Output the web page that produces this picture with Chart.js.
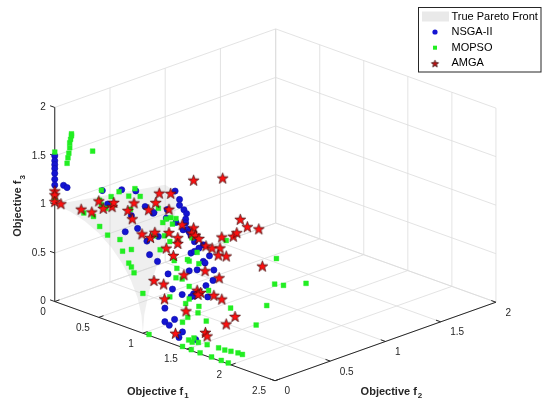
<!DOCTYPE html>
<html>
<head>
<meta charset="utf-8">
<script src="https://cdn.jsdelivr.net/npm/chart.js@4.4.0/dist/chart.umd.min.js"></script>
<style>
  html, body { margin: 0; padding: 0; background: #fff; }
  #wrap { width: 550px; height: 408px; position: relative; }
</style>
</head>
<body>
<div id="wrap"><canvas id="paretochart"></canvas></div>
<script>
'use strict';

// axis ticks
var f1Ticks = [0, 0.5, 1, 1.5, 2, 2.5];
var f2Ticks = [0, 0.5, 1, 1.5, 2];
var f3Ticks = [0, 0.5, 1, 1.5, 2];

// outline of the true Pareto front (f2 = 0 edge, then far edge back to the top)
var frontF1 = [0, 0.174, 0.342, 0.5, 0.643, 0.766, 0.866, 0.94, 0.985, 1, 0.979, 0.918, 0.823, 0.703, 0.567, 0.425, 0.282, 0.14, 0];
var frontF2 = [0, 0, 0, 0, 0, 0, 0, 0, 0, 0, 0.03, 0.117, 0.25, 0.413, 0.587, 0.75, 0.883, 0.97, 1];
var frontF3 = [1, 0.985, 0.94, 0.866, 0.766, 0.643, 0.5, 0.342, 0.174, 0, 0.173, 0.334, 0.475, 0.59, 0.676, 0.736, 0.774, 0.794, 0.8];

// NSGA-II
var nsgaF1 = [0, 0, 0, 0, 0, 0, 0, 0.10, 0.14, 0.54, 0.76, 0.92, 0.99, 1.04, 1.04, 1.09, 1.12, 1.11, 1.11, 1.08,
  1.13, 0.74, 0.89, 1.00, 0.80, 1.15, 1.21, 1.31, 1.26, 1.38, 1.31, 0.60, 0.87, 0.65, 0.75, 0.90, 0.80, 0.94, 0.67, 1.17,
  0.70, 0.79, 1.17, 0.91, 0.96, 1.07, 1.17, 1.20, 1.24, 1.33, 1.43, 1.42, 1.34, 1.36, 1.21, 1.25, 1.25, 1.36, 1.30, 1.41,
  1.45, 1.60, 1.21, 1.15];
var nsgaF2 = [0, 0, 0, 0, 0, 0, 0, 0, 0, 0, 0, 0, 0.3, 0.3, 0.3, 0.3, 0.3, 0.3, 0.3, 0.3,
  0.3, 0.3, 0.3, 0.3, 0.3, 0.3, 0.3, 0.3, 0.3, 0.3, 0.3, 0, 0, 0.3, 0.3, 0.3, 0, 0, 0.3, 0.3,
  0.3, 0.3, 0.3, 0.3, 0.3, 0.3, 0.3, 0.3, 0.3, 0.3, 0.3, 0.3, 0.3, 0.3, 0.3, 0, 0, 0, 0, 0,
  0, 0, 0.3, 0.3];
var nsgaF3 = [1.50, 1.45, 1.41, 1.37, 1.32, 1.26, 1.20, 1.23, 1.22, 1.32, 1.40, 1.44, 1.34, 1.27, 1.21, 1.18, 1.15, 1.09, 1.05, 0.97,
  0.99, 1.03, 1.03, 1.02, 0.81, 0.97, 0.89, 0.89, 0.84, 0.80, 0.72, 1.20, 1.17, 1.07, 1.04, 1.12, 0.98, 1.06, 0.72, 0.94,
  0.59, 0.55, 0.76, 0.46, 0.32, 0.30, 0.31, 0.35, 0.61, 0.71, 0.67, 0.56, 0.48, 0.37, 0.33, 0.34, 0.20, 0.26, 0.18, 0.09,
  0.16, 0.13, 0.79, 0.57];

// MOPSO
var mopsoF1 = [0.14, 0.15, 0.16, 0.17, 0.17, 0.18, 0.19, 0.19, 0, 0.43, 0, 0.53, 0.64, 0.73, 0.84, 0.91, 0.97, 0.51, 0.58, 0.53,
  0.66, 0.33, 0.44, 0.51, 0.60, 0.74, 0.77, 0.87, 0.84, 0.87, 0.90, 1.00, 1.07, 0.86, 0.80, 0.85, 0.89, 1.00, 0.94, 0.96,
  0.75, 0.87, 0.93, 0.82, 0.98, 1.01, 1.15, 1.18, 1.24, 1.13, 1.26, 1.57, 1.07, 1.00, 1.15, 1.37, 0.93, 1.15, 1.11, 1.26,
  1.25, 1.51, 1.45, 1.72, 1.62, 2.03, 1.91, 1.58, 1.52, 1.56, 1.63, 1.73, 1.86, 1.93, 2.00, 2.08, 2.13, 1.45, 1.55, 1.65,
  1.78, 1.89, 1.97, 2.14, 2.12, 2.22, 2.10];
var mopsoF2 = [0, 0, 0, 0, 0, 0, 0, 0, 0, 0, 0, 0, 0, 0, 0, 0, 0, 0, 0, 0,
  0, 0, 0, 0, 0, 0, 0, 0, 0, 0, 0, 0, 0, 0, 0.3, 0.3, 0.3, 0.3, 0.3, 0.3,
  0.3, 0.3, 0.3, 0.3, 0.3, 0.3, 0.3, 0.3, 0.3, 0.3, 0.3, 0.3, 0.3, 0.3, 0.3, 0.3, 0.3, 0.3, 0.3, 0.3,
  0.3, 0, 0, 0, 0.3, 0.3, 0.3, 0, 0, 0, 0, 0, 0, 0, 0, 0, 0, 0, 0, 0,
  0, 0, 0, 0.3, 0.3, 0.3, 0.6];
var mopsoF3 = [1.47, 1.53, 1.58, 1.64, 1.69, 1.73, 1.77, 1.79, 1.54, 1.69, 1.06, 1.32, 1.29, 1.37, 1.36, 1.46, 1.40, 1.21, 1.15, 1.17,
  1.21, 1.02, 1.02, 0.94, 0.88, 0.88, 0.77, 0.82, 0.67, 0.64, 0.59, 0.41, 0.01, 1.23, 1.10, 0.97, 1.02, 1.06, 1.05, 0.99,
  0.80, 0.84, 0.80, 0.68, 0.62, 0.55, 0.67, 0.92, 0.79, 0.68, 0.68, 1.02, 0.46, 0.45, 0.41, 0.44, 0.23, 0.28, 0.22, 0.24,
  0.17, 0.33, 0.26, 0.36, 0.34, 0.50, 0.26, 0.14, 0.10, 0.09, 0.11, 0.12, 0.13, 0.13, 0.14, 0.15, 0.15, 0.01, 0.01, 0.01,
  0.01, 0.01, 0.01, 1.02, 0.75, 0.77, 0.63];

// AMGA
var amgaF1 = [0, 0, 0, 0.07, 0.50, 0.55, 0.65, 0.30, 0.42, 0.67, 0.90, 0.83, 0.88, 0.69, 0.77, 0.81, 0.94, 1.20, 1.53, 0.92,
  0.99, 0.71, 0.76, 0.92, 1.02, 1.02, 1.07, 1.20, 0.89, 0.97, 1.18, 1.22, 1.26, 1.34, 1.41, 1.50, 1.52, 1.65, 1.69, 1.73,
  1.81, 1.94, 1.98, 1.57, 1.48, 1.09, 1.33, 1.49, 0.75, 0.86, 1.24, 1.28, 1.25, 1.43, 1.52, 0.87, 1.49, 1.67, 1.57, 1.37,
  1.71, 1.73];
var amgaF2 = [0, 0, 0, 0, 0, 0, 0, 0, 0, 0, 0, 0, 0, 0.3, 0.3, 0.3, 0.3, 0.3, 0.3, 0.3,
  0, 0.3, 0.3, 0.3, 0.3, 0.3, 0.3, 0.3, 0.3, 0.3, 0.3, 0.3, 0.3, 0.3, 0.3, 0.3, 0.3, 0.3, 0.3, 0.3,
  0.3, 0.3, 0.3, 0.3, 0.3, 0.3, 0.3, 0.3, 0.3, 0.3, 0.3, 0.3, 0.3, 0.3, 0.3, 0.3, 0, 0.3, 0.3, 0,
  0, 0];
var amgaF3 = [1.14, 1.10, 1.03, 1.03, 1.20, 1.14, 1.19, 1.05, 1.06, 1.24, 1.31, 1.21, 1.14, 1.05, 1.15, 1.26, 1.30, 1.52, 1.65, 1.13,
  1.02, 0.77, 0.84, 0.89, 0.87, 0.81, 1.02, 1.03, 0.72, 0.67, 0.97, 0.96, 0.94, 0.89, 0.89, 0.92, 1.04, 1.09, 1.14, 1.29,
  1.24, 1.26, 0.89, 0.86, 0.84, 0.51, 0.63, 0.61, 0.34, 0.34, 0.40, 0.39, 0.36, 0.41, 0.40, 0.19, 0.39, 0.27, 0.16, 0.12,
  0.24, 0.21];

// how the 3D box sits on the canvas (oblique view)
var view = { ox: 49, oy: 305, e1: [90.4, 32.8], e2: [113.35, -40.65], e3: [0, -100.5] };

function project(a, b, c) {
  return {
    x: view.ox + a * view.e1[0] + b * view.e2[0] + c * view.e3[0],
    y: view.oy + a * view.e1[1] + b * view.e2[1] + c * view.e3[1]
  };
}

function toPoints(f1, f2, f3) {
  return f1.map(function (v, i) { return project(v, f2[i], f3[i]); });
}

var FONT = '"Liberation Sans", Arial, Helvetica, sans-serif';
var AXIS_COLOR = '#262626';
var FRONT_COLOR = 'rgba(205,205,205,0.32)';

function makeStar(outer, fill, edge, lw) {
  var c = document.createElement('canvas');
  var s = Math.ceil(outer * 2 + 3);
  c.width = s; c.height = s;
  var g = c.getContext('2d');
  var inner = outer * 0.40;
  g.beginPath();
  for (var k = 0; k < 10; k++) {
    var r = k % 2 === 0 ? outer : inner;
    var a = -Math.PI / 2 + k * Math.PI / 5;
    var x = s / 2 + r * Math.cos(a), y = s / 2 + r * Math.sin(a) + 0.5;
    if (k === 0) g.moveTo(x, y); else g.lineTo(x, y);
  }
  g.closePath();
  g.fillStyle = fill; g.fill();
  g.strokeStyle = edge; g.lineWidth = lw; g.stroke();
  return c;
}

var starBig = makeStar(5.8, '#ff1010', '#3a0a0a', 0.7);
var starSmall = makeStar(3.8, '#c41414', '#3a0a0a', 0.8);

function drawTitle(ctx, main, sub, cx, cy, angle) {
  ctx.save();
  ctx.translate(cx, cy);
  ctx.rotate(angle);
  ctx.fillStyle = AXIS_COLOR;
  ctx.textAlign = 'left';
  ctx.textBaseline = 'alphabetic';
  ctx.font = 'bold 11px ' + FONT;
  var w1 = ctx.measureText(main).width;
  ctx.font = 'bold 8px ' + FONT;
  var w2 = ctx.measureText(sub).width;
  var x0 = -(w1 + w2 + 1) / 2;
  ctx.font = 'bold 11px ' + FONT;
  ctx.fillText(main, x0, 4);
  ctx.font = 'bold 8px ' + FONT;
  ctx.fillText(sub, x0 + w1 + 1, 7.5);
  ctx.restore();
}

var boxPlugin = {
  id: 'box3d',
  beforeDatasetsDraw: function (chart) {
    var ctx = chart.ctx, sx = chart.scales.x, sy = chart.scales.y;
    var m1 = f1Ticks[f1Ticks.length - 1], m2 = f2Ticks[f2Ticks.length - 1], m3 = f3Ticks[f3Ticks.length - 1];
    function px(a, b, c) {
      var p = project(a, b, c);
      return [sx.getPixelForValue(p.x), sy.getPixelForValue(p.y)];
    }
    function seg(p, q) { ctx.moveTo(p[0], p[1]); ctx.lineTo(q[0], q[1]); }
    function tick(p, toward, len) {
      var dx = toward[0] - p[0], dy = toward[1] - p[1], d = Math.sqrt(dx * dx + dy * dy);
      ctx.moveTo(p[0], p[1]);
      ctx.lineTo(p[0] + dx / d * len, p[1] + dy / d * len);
    }

    ctx.save();
    // grid on floor and two back walls
    ctx.strokeStyle = '#dcdcdc';
    ctx.lineWidth = 0.8;
    ctx.beginPath();
    f1Ticks.forEach(function (t) {
      seg(px(t, 0, 0), px(t, m2, 0));
      seg(px(t, m2, 0), px(t, m2, m3));
    });
    f2Ticks.forEach(function (t) {
      seg(px(0, t, 0), px(m1, t, 0));
      seg(px(0, t, 0), px(0, t, m3));
    });
    f3Ticks.forEach(function (t) {
      seg(px(0, 0, t), px(0, m2, t));
      seg(px(0, m2, t), px(m1, m2, t));
    });
    ctx.stroke();

    // true Pareto front
    ctx.fillStyle = FRONT_COLOR;
    ctx.beginPath();
    frontF1.forEach(function (v, i) {
      var p = px(v, frontF2[i], frontF3[i]);
      if (i === 0) ctx.moveTo(p[0], p[1]); else ctx.lineTo(p[0], p[1]);
    });
    ctx.closePath();
    ctx.fill();

    // axis lines and ticks
    ctx.strokeStyle = AXIS_COLOR;
    ctx.lineWidth = 1;
    ctx.beginPath();
    seg(px(0, 0, 0), px(m1, 0, 0));
    seg(px(m1, 0, 0), px(m1, m2, 0));
    seg(px(0, 0, 0), px(0, 0, m3));
    f1Ticks.forEach(function (t) { tick(px(t, 0, 0), px(t, m2, 0), 5); });
    f2Ticks.forEach(function (t) { tick(px(m1, t, 0), px(0, t, 0), 5); });
    f3Ticks.forEach(function (t) {
      var p = px(0, 0, t), q = px(m1, 0, t);
      tick(p, [2 * p[0] - q[0], 2 * p[1] - q[1]], 5);
    });
    ctx.stroke();

    // tick labels
    ctx.fillStyle = AXIS_COLOR;
    ctx.font = '10px ' + FONT;
    ctx.textBaseline = 'middle';
    ctx.textAlign = 'right';
    f1Ticks.forEach(function (t) {
      var p = px(t, 0, 0);
      ctx.fillText(String(t), p[0] - 9, p[1] + 10.7);
    });
    f3Ticks.forEach(function (t) {
      var p = px(0, 0, t);
      ctx.fillText(String(t), p[0] - 9, p[1]);
    });
    ctx.textAlign = 'left';
    f2Ticks.forEach(function (t) {
      var p = px(m1, t, 0);
      ctx.fillText(String(t), p[0] + 9.5, p[1] + 10.7);
    });

    // axis titles
    var a1 = px(m1 / 2, 0, 0), a2 = px(m1, m2 / 2, 0), a3 = px(0, 0, m3 / 2);
    drawTitle(ctx, 'Objective f', '1', a1[0] - 7, a1[1] + 49.5, 0);
    drawTitle(ctx, 'Objective f', '2', a2[0] + 6, a2[1] + 49.5, 0);
    drawTitle(ctx, 'Objective f', '3', a3[0] - 37.5, a3[1] + 1.5, -Math.PI / 2);
    ctx.restore();
  }
};

var legendPlugin = {
  id: 'boxLegend',
  afterDraw: function (chart) {
    var ctx = chart.ctx;
    var left = 418.5, top = 7.5, w = 122.5, h = 64.5;
    ctx.save();
    ctx.fillStyle = '#ffffff';
    ctx.fillRect(left, top, w, h);
    ctx.strokeStyle = AXIS_COLOR;
    ctx.lineWidth = 1;
    ctx.strokeRect(left, top, w, h);

    ctx.font = '11px ' + FONT;
    ctx.textAlign = 'left';
    ctx.textBaseline = 'middle';
    ctx.fillStyle = '#e9e9e9';
    ctx.fillRect(left + 3.5, top + 4, 27, 10);
    ctx.fillStyle = '#000000';
    ctx.fillText('True Pareto Front', left + 33, top + 9.5);

    var mx = left + 16.5;
    chart.data.datasets.forEach(function (ds, i) {
      var y = top + 24.5 + i * 15.7;
      if (ds.pointStyle === 'circle') {
        ctx.fillStyle = ds.backgroundColor;
        ctx.beginPath();
        ctx.arc(mx, y, 2.6, 0, Math.PI * 2);
        ctx.fill();
      } else if (ds.pointStyle === 'rect') {
        ctx.fillStyle = ds.backgroundColor;
        ctx.fillRect(mx - 2, y - 2, 4, 4);
      } else {
        ctx.drawImage(starSmall, mx - starSmall.width / 2, y - starSmall.height / 2);
      }
      ctx.fillStyle = '#000000';
      ctx.fillText(ds.label, left + 33, y);
    });
    ctx.restore();
  }
};

function newchart() {
  var ctx = document.getElementById('paretochart').getContext('2d');
  return new Chart(ctx, {
    type: 'scatter',
    data: {
      datasets: [{
        label: 'NSGA-II',
        data: toPoints(nsgaF1, nsgaF2, nsgaF3),
        pointStyle: 'circle',
        pointRadius: 3.1,
        backgroundColor: '#1414d2',
        borderColor: '#0c0ca6',
        borderWidth: 0.6,
        order: 3
      }, {
        label: 'MOPSO',
        data: toPoints(mopsoF1, mopsoF2, mopsoF3),
        pointStyle: 'rect',
        pointRadius: 3.4,
        backgroundColor: '#22ee22',
        borderColor: '#22ee22',
        borderWidth: 0.4,
        order: 2
      }, {
        label: 'AMGA',
        data: toPoints(amgaF1, amgaF2, amgaF3),
        pointStyle: starBig,
        pointRadius: 6,
        backgroundColor: '#ff1010',
        borderColor: '#3a0a0a',
        order: 1
      }]
    },
    options: {
      responsive: true,
      maintainAspectRatio: false,
      animation: false,
      events: [],
      layout: { padding: 0 },
      scales: {
        x: { type: 'linear', min: 0, max: 550, display: false },
        y: { type: 'linear', min: 0, max: 408, reverse: true, display: false }
      },
      plugins: {
        legend: { display: false },
        tooltip: { enabled: false }
      }
    },
    plugins: [boxPlugin, legendPlugin]
  });
}
newchart();
</script>
</body>
</html>
